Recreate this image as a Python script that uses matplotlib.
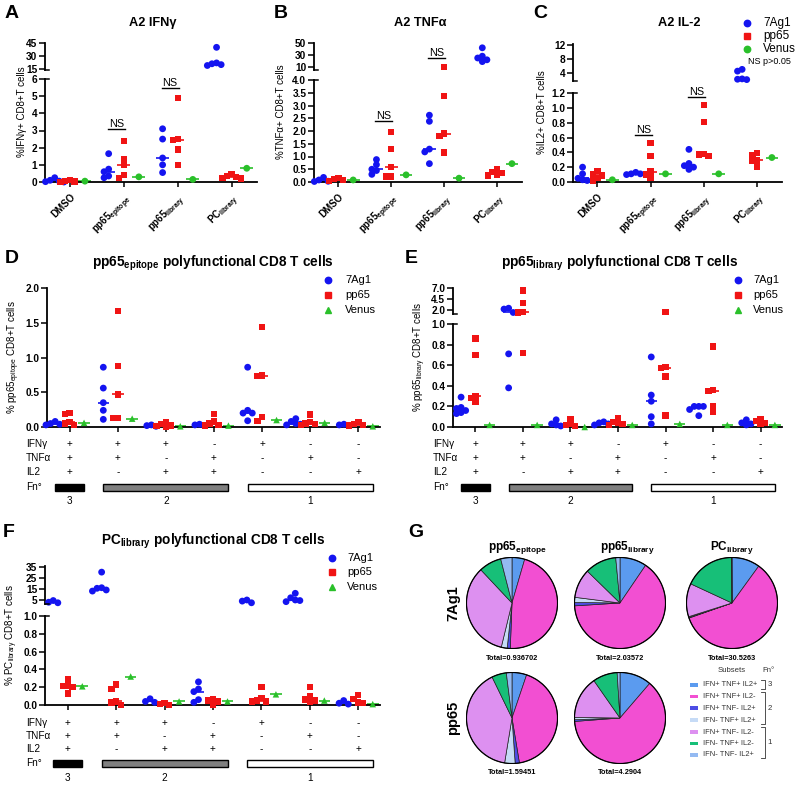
import numpy as np
import matplotlib
matplotlib.use("Agg")
import matplotlib.pyplot as plt
from matplotlib import transforms
from matplotlib.lines import Line2D
from matplotlib.patches import Rectangle

plt.rcParams['font.family'] = ['Liberation Sans', 'DejaVu Sans']
plt.rcParams['mathtext.fontset'] = 'custom'
plt.rcParams['mathtext.rm'] = 'Liberation Sans'
plt.rcParams['mathtext.bf'] = 'Liberation Sans:bold'
plt.rcParams['mathtext.it'] = 'Liberation Sans:italic'

# ---------------- data ----------------
stims = ['DMSO', r'pp65$_{\mathbf{epitope}}$', r'pp65$_{\mathbf{library}}$', r'PC$_{\mathbf{library}}$']

# A  IFNg
ifng_7ag1 = [[0.25, 0.1, 0.05, 0.02, 0.0], [1.65, 0.75, 0.6, 0.35, 0.25], [3.1, 2.5, 1.4, 1.0, 0.55], [40, 22, 21, 20, 19]]
ifng_pp65 = [[0.1, 0.06, 0.03, 0.0], [2.4, 1.35, 1.0, 0.4, 0.25], [4.9, 2.5, 2.45, 1.9, 1.0], [0.45, 0.35, 0.3, 0.25, 0.2]]
ifng_venus = [[0.05], [0.3], [0.15], [0.8]]
# B  TNFa
tnfa_7ag1 = [[0.18, 0.08, 0.03, 0.02], [0.88, 0.68, 0.5, 0.45, 0.3], [2.62, 2.38, 1.29, 1.18, 0.72], [42, 28, 25, 22, 19]]
tnfa_pp65 = [[0.15, 0.12, 0.08, 0.05], [1.97, 1.3, 0.6, 0.22, 0.22], [10, 3.37, 1.9, 1.8, 1.15], [0.52, 0.4, 0.35, 0.28, 0.25]]
tnfa_venus = [[0.08], [0.28], [0.15], [0.72]]
# C  IL-2
il2_7ag1 = [[0.2, 0.11, 0.05, 0.03, 0.02], [0.13, 0.11, 0.11, 0.1], [0.44, 0.25, 0.22, 0.2, 0.17], [5.1, 4.6, 2.4, 2.3, 2.2]]
il2_pp65 = [[0.15, 0.1, 0.09, 0.05, 0.02], [0.53, 0.35, 0.14, 0.1, 0.05], [1.04, 0.81, 0.38, 0.37, 0.35], [0.39, 0.36, 0.3, 0.29, 0.21]]
il2_venus = [[0.03], [0.11], [0.11], [0.33]]

# D-F polyfunctional subsets
ifng_sign = ['+', '+', '+', '-', '+', '-', '-']
tnfa_sign = ['+', '+', '-', '+', '-', '+', '-']
il2_sign = ['+', '-', '+', '+', '-', '-', '+']
fn_groups = ['3', '2', '1']

epi_7ag1 = [[0.08, 0.05, 0.04, 0.03], [0.86, 0.56, 0.35, 0.24, 0.11], [0.03, 0.02, 0.01],
            [0.04, 0.03, 0.02], [0.86, 0.24, 0.2, 0.2, 0.09], [0.12, 0.08, 0.05, 0.04, 0.03], [0.04, 0.03, 0.02]]
epi_pp65 = [[0.2, 0.19, 0.07, 0.05, 0.03], [1.67, 0.88, 0.47, 0.13, 0.13], [0.07, 0.04, 0.02, 0.01, 0.0],
            [0.19, 0.08, 0.05, 0.03, 0.02], [1.44, 0.74, 0.73, 0.14, 0.09], [0.18, 0.07, 0.05, 0.04, 0.03],
            [0.07, 0.04, 0.03, 0.02]]
epi_venus = [[0.06], [0.12], [0.01], [0.02], [0.1], [0.06], [0.01]]

lib_7ag1 = [[0.29, 0.19, 0.18, 0.16, 0.14, 0.13], [2.4, 2.2, 1.4, 0.71, 0.38], [0.07, 0.03, 0.02, 0.01],
            [0.05, 0.04, 0.03, 0.02], [0.68, 0.31, 0.25, 0.1, 0.03], [0.2, 0.2, 0.2, 0.17, 0.11],
            [0.07, 0.04, 0.03, 0.02]]
lib_pp65 = [[0.86, 0.7, 0.3, 0.28, 0.24], [6.5, 3.6, 1.45, 1.4, 0.72], [0.08, 0.03, 0.02, 0.01],
            [0.09, 0.05, 0.04, 0.03, 0.02], [1.5, 0.58, 0.57, 0.49, 0.11], [0.78, 0.36, 0.35, 0.2, 0.15],
            [0.08, 0.06, 0.04, 0.03]]
lib_venus = [[0.02], [0.02], [0.0], [0.02], [0.03], [0.02], [0.02]]

pc_7ag1 = [[4.5, 3.0, 2.5], [30, 16, 15.5, 14, 13], [0.07, 0.04, 0.03], [0.26, 0.18, 0.15, 0.06, 0.03],
           [5.0, 4.0, 2.5], [11, 7, 5, 4.5, 3.5], [0.05, 0.02, 0.01]]
pc_pp65 = [[0.29, 0.22, 0.21, 0.2, 0.13], [0.23, 0.18, 0.04, 0.03, 0.0], [0.02, 0.01, 0.0], [0.07, 0.05, 0.04, 0.0],
           [0.2, 0.08, 0.05, 0.04, 0.04], [0.2, 0.1, 0.06, 0.05, 0.04], [0.11, 0.07, 0.03, 0.02]]
pc_venus = [[0.21], [0.32], [0.04], [0.04], [0.12], [0.05], [0.01]]

# G pies (percent of each subset)
subsets = ['IFN+ TNF+ IL2+', 'IFN+ TNF+ IL2-', 'IFN+ TNF- IL2+', 'IFN- TNF+ IL2+',
           'IFN+ TNF- IL2-', 'IFN- TNF+ IL2-', 'IFN- TNF- IL2+']
subset_colors = ['#5b9bef', '#f24fd2', '#4d4de4', '#c6dbf6', '#dd90f0', '#17bf78', '#94baf2']
pie_7ag1_epi = [4.5, 46.1, 1.1, 2.1, 34.2, 8.0, 4.0]
pie_7ag1_lib = [9.5, 64.5, 1.2, 1.8, 10.3, 11.2, 1.5]
pie_7ag1_pc = [10.0, 59.7, 0.2, 0.3, 11.8, 18.0, 0.1]
pie_pp65_epi = [5.2, 42.2, 1.5, 3.7, 40.2, 5.2, 2.0]
pie_pp65_lib = [11.3, 62.5, 0.6, 0.8, 15.1, 8.7, 1.0]
totals_7ag1 = ['0.936702', '2.03572', '30.5263']
totals_pp65 = ['1.59451', '4.2904']

BLUE, RED, GREEN = '#1414f0', '#f01414', '#2ac02a'
TICK_FS = 7.3
TAB_FS = 7.2

# ---------------- helpers ----------------
W, H = 797, 801
fig = plt.figure(figsize=(W / 100, H / 100), dpi=100)


def fx(p):
    return p / W


def fy(p):
    return 1 - p / H


def add_ax(x0, y0, x1, y1):
    return fig.add_axes([fx(x0), fy(y1), (x1 - x0) / W, (y1 - y0) / H])


def style(ax, ticks, fmt, bottom=True):
    for s in ['top', 'right']:
        ax.spines[s].set_visible(False)
    ax.spines['left'].set_linewidth(1.3)
    ax.set_yticks(ticks)
    ax.set_yticklabels([fmt.format(t) for t in ticks], fontweight='bold')
    ax.tick_params(axis='y', direction='out', length=4, width=1.1, labelsize=TICK_FS, pad=1.5)
    if bottom:
        ax.spines['bottom'].set_linewidth(1.3)
        ax.tick_params(axis='x', direction='out', length=3.5, width=1.1, labelsize=TICK_FS)
    else:
        ax.spines['bottom'].set_visible(False)
        ax.tick_params(axis='x', bottom=False, labelbottom=False)
    ax.patch.set_alpha(0)


def panel(x0, x1, lo_box, lo_lim, lo_ticks, lo_fmt, xlim, hi_box=None, hi_lim=None, hi_ticks=None, hi_fmt=None):
    lo = add_ax(x0, lo_box[0], x1, lo_box[1])
    lo.set_xlim(xlim)
    lo.set_ylim(lo_lim)
    style(lo, lo_ticks, lo_fmt)
    hi = None
    if hi_box is not None:
        hi = add_ax(x0, hi_box[0], x1, hi_box[1])
        hi.set_xlim(xlim)
        hi.set_ylim(hi_lim)
        style(hi, hi_ticks, hi_fmt, bottom=False)
        for yy in (hi_box[1], lo_box[0]):
            fig.add_artist(Line2D([fx(x0), fx(x0 + 4)], [fy(yy), fy(yy)], color='k', lw=1.1))
    return lo, hi


def draw(lo, hi, series, offsets, med_half=0.12):
    split = lo.get_ylim()[1]
    xl = lo.get_xlim()
    px_per_x = lo.bbox.width / (xl[1] - xl[0])

    def pick(v):
        return hi if (hi is not None and v > split) else lo

    def ypx(v):
        return pick(v).transData.transform((0, v))[1]

    for (data, color, marker, size), off in zip(series, offsets):
        for i, vals in enumerate(data):
            xc = i + off
            placed = []
            for v in vals:
                y = ypx(v)
                for k in [0, -1, 1, -2, 2, -3, 3]:
                    x = k * 4.6
                    if all((x - a) ** 2 + (y - b) ** 2 >= 4.6 ** 2 for a, b in placed):
                        break
                placed.append((x, y))
                pick(v).scatter([xc + x / px_per_x], [v], s=size, marker=marker, color=color,
                                edgecolors='none', zorder=3, clip_on=False)
            m = float(np.median(vals))
            pick(m).plot([xc - med_half, xc + med_half], [m, m], color=color, lw=1.2, zorder=2,
                         solid_capstyle='butt', clip_on=False)


def legend(xm, xt, ys, items, size=8):
    for y, (lab, color, marker) in zip(ys, items):
        fig.add_artist(Line2D([fx(xm)], [fy(y)], marker=marker, color=color, markersize=4.6, lw=0))
        fig.text(fx(xt), fy(y), lab, fontsize=size, va='center', ha='left')


def ns(ax, c, y):
    ax.plot([c - 0.3, c + 0.02], [y, y], color='k', lw=1.0, clip_on=False)
    ax.text(c - 0.14, y + 0.0, 'NS', ha='center', va='bottom', fontsize=7.8, clip_on=False)


# ---------------- A-C ----------------
xlim_abc = (-0.46, 3.47)
abc = [
    (45, 257, (79, 182), (0, 6), [0, 1, 2, 3, 4, 5, 6], '{:g}', (43, 70), (13.8, 45), [15, 30, 45], '{:g}',
     [ifng_7ag1, ifng_pp65, ifng_venus], 'A2 IFNγ', '%IFNγ+ CD8+T cells', 'A', [3.1, 5.47], 23),
    (314, 522, (80, 182), (0, 4), [0, 0.5, 1, 1.5, 2, 2.5, 3, 3.5, 4], '{:.1f}', (43, 70), (5, 50), [10, 30, 50], '{:g}',
     [tnfa_7ag1, tnfa_pp65, tnfa_venus], 'A2 TNFα', '%TNFα+ CD8+T cells', 'B', [2.4, 4.85], 33),
    (573, 782, (93, 182), (0, 1.2), [0, 0.2, 0.4, 0.6, 0.8, 1.0, 1.2], '{:.1f}', (44, 81), (1.8, 12.3), [4, 8, 12], '{:g}',
     [il2_7ag1, il2_pp65, il2_venus], 'A2 IL-2', '%IL2+ CD8+T cells', 'C', [0.63, 1.15], 31),
]
for (x0, x1, lob, lol, lot, lof, hib, hil, hit, hif, dat, title, ylab, letter, nsy, ylx) in abc:
    lo, hi = panel(x0, x1, lob, lol, lot, lof, xlim_abc, hib, hil, hit, hif)
    lo.set_xticks(range(4))
    lo.set_xticklabels(stims, rotation=45, ha='right', rotation_mode='anchor', fontweight='bold', fontsize=7)
    draw(lo, hi, [(dat[0], BLUE, 'o', 24), (dat[1], RED, 's', 21), (dat[2], GREEN, 'o', 24)], [-0.28, 0.0, 0.28])
    ns(lo, 1, nsy[0])
    ns(lo, 2, nsy[1])
    fig.text(fx((x0 + x1) / 2 + 2), fy(23), title, ha='center', va='center', fontsize=9.2, fontweight='bold')
    fig.text(fx(x0 - ylx), fy(112), ylab, rotation=90, ha='center', va='center', fontsize=7)
    fig.text(fx(x0 - 40), fy(5), letter, ha='left', va='top', fontsize=14, fontweight='bold')

legend(747, 763, [23, 36, 49], [('7Ag1', BLUE, 'o'), ('pp65', RED, 's'), ('Venus', GREEN, 'o')], size=8.5)
fig.text(fx(748), fy(62), 'NS p>0.05', fontsize=6.5, va='center')

# ---------------- D-F ----------------
xlim_def = (-0.47, 6.45)
tri = [('7Ag1', BLUE, 'o'), ('pp65', RED, 's'), ('Venus', GREEN, '^')]
def_panels = [
    (47, 380, (288, 427), (0, 2), [0, 0.5, 1, 1.5, 2], '{:.1f}', None, None, None, None,
     [epi_7ag1, epi_pp65, epi_venus], r'pp65$_{\mathbf{epitope}}$ polyfunctional CD8 T cells',
     r'% pp65$_{\mathrm{epitope}}$ CD8+T cells', 'D', 213, 263, (328, 345, [280, 295, 310]),
     26, [444, 458, 472, 487, 501], 5, 250),
    (453, 782, (324, 427), (0, 1), [0, 0.2, 0.4, 0.6, 0.8, 1.0], '{:.1f}', (288, 314), (1.05, 7.1), [2, 4.5, 7], '{:.1f}',
     [lib_7ag1, lib_pp65, lib_venus], r'pp65$_{\mathbf{library}}$ polyfunctional CD8 T cells',
     r'% pp65$_{\mathrm{library}}$ CD8+T cells', 'E', 620, 263, (738, 753, [280, 295, 310]),
     433, [444, 458, 472, 487, 501], 405, 250),
    (45, 380, (616, 705), (0, 1), [0, 0.2, 0.4, 0.6, 0.8, 1.0], '{:.1f}', (566, 604), (1.4, 35.5), [5, 15, 25, 35], '{:g}',
     [pc_7ag1, pc_pp65, pc_venus], r'PC$_{\mathbf{library}}$ polyfunctional CD8 T cells',
     r'% PC$_{\mathrm{library}}$ CD8+T cells', 'F', 213, 541, (332, 347, [558, 572, 587]),
     26, [723, 736, 749, 763, 778], 3, 524),
]
for (x0, x1, lob, lol, lot, lof, hib, hil, hit, hif, dat, title, ylab, letter, tx, ty, leg, labx, rows, lx, ly) in def_panels:
    lo, hi = panel(x0, x1, lob, lol, lot, lof, xlim_def, hib, hil, hit, hif)
    lo.set_xticks(range(7))
    lo.set_xticklabels([])
    draw(lo, hi, [(dat[0], BLUE, 'o', 24), (dat[1], RED, 's', 21), (dat[2], GREEN, '^', 22)], [-0.3, 0.0, 0.3], 0.12)
    fig.text(fx(tx), fy(ty), title, ha='center', va='center', fontsize=9.8, fontweight='bold')
    top = hib[0] if hib else lob[0]
    fig.text(fx(x0 - 33), fy((top + lob[1]) / 2), ylab, rotation=90, ha='center', va='center', fontsize=7)
    fig.text(fx(lx), fy(ly), letter, ha='left', va='top', fontsize=14, fontweight='bold')
    legend(leg[0], leg[1], leg[2], tri)
    tr = transforms.blended_transform_factory(lo.transData, fig.transFigure)
    for name, signs, y in zip(['IFNγ', 'TNFα', 'IL2'], [ifng_sign, tnfa_sign, il2_sign], rows[:3]):
        fig.text(fx(labx), fy(y), name, fontsize=TAB_FS, va='center', ha='left')
        for i, sg in enumerate(signs):
            lo.text(i, fy(y), sg, transform=tr, ha='center', va='center', fontsize=TAB_FS, clip_on=False)
    fig.text(fx(labx), fy(rows[3]), 'Fn°', fontsize=TAB_FS, va='center', ha='left')
    for (a, b), fc, lab, c in zip([(-0.3, 0.3), (0.7, 3.3), (3.7, 6.3)], ['black', '#808080', 'white'], fn_groups, [0, 2, 5]):
        lo.add_patch(Rectangle((a, fy(rows[3] + 4)), b - a, 7.5 / H, transform=tr, facecolor=fc,
                               edgecolor='black', lw=1.0, clip_on=False))
        lo.text(c, fy(rows[4]), lab, transform=tr, ha='center', va='center', fontsize=TAB_FS, clip_on=False)

# ---------------- G ----------------
fig.text(fx(408), fy(524), 'G', ha='left', va='top', fontsize=14, fontweight='bold')
for x, t in zip([517, 627, 732], [r'pp65$_{\mathbf{epitope}}$', r'pp65$_{\mathbf{library}}$', r'PC$_{\mathbf{library}}$']):
    fig.text(fx(x), fy(548), t, ha='center', va='center', fontsize=8.5, fontweight='bold')
fig.text(fx(453), fy(603), '7Ag1', rotation=90, ha='center', va='center', fontsize=10.5, fontweight='bold')
fig.text(fx(453), fy(718), 'pp65', rotation=90, ha='center', va='center', fontsize=10.5, fontweight='bold')

R = 46
pies = [(pie_7ag1_epi, 512, 603, totals_7ag1[0]), (pie_7ag1_lib, 620, 603, totals_7ag1[1]),
        (pie_7ag1_pc, 732, 603, totals_7ag1[2]), (pie_pp65_epi, 512, 718, totals_pp65[0]),
        (pie_pp65_lib, 620, 718, totals_pp65[1])]
for vals, cx, cy, tot in pies:
    ax = add_ax(cx - R, cy - R, cx + R, cy + R)
    ax.pie(vals, colors=subset_colors, startangle=90, counterclock=False,
           wedgeprops=dict(edgecolor='#222222', linewidth=0.5))
    ax.add_patch(plt.Circle((0, 0), 1, fill=False, edgecolor='black', lw=0.9))
    ax.set_xlim(-1.01, 1.01)
    ax.set_ylim(-1.01, 1.01)
    ax.set_aspect('equal')
    ax.axis('off')
    fig.text(fx(cx), fy(cy + R + 9), 'Total=' + tot, ha='center', va='center', fontsize=5.3, fontweight='bold')

fig.text(fx(732), fy(671), 'Subsets', ha='center', va='center', fontsize=5.6, color='#333333')
fig.text(fx(768), fy(671), 'Fn°', ha='center', va='center', fontsize=5.6, color='#333333')
leg_y = [685, 696.5, 708, 720, 732, 743.5, 755]
for y, lab, col in zip(leg_y, subsets, subset_colors):
    fig.patches.append(Rectangle((fx(690), fy(y + 1.8)), 8 / W, 3.6 / H, transform=fig.transFigure,
                                 facecolor=col, edgecolor='none'))
    fig.text(fx(703), fy(y), lab, ha='left', va='center', fontsize=5.4, color='#333333')
for (t, b), lab in zip([(680, 689), (692, 724), (727, 758)], fn_groups):
    fig.add_artist(Line2D([fx(761), fx(764.5), fx(764.5), fx(761)], [fy(t), fy(t), fy(b), fy(b)],
                          color='#333333', lw=0.6))
    fig.text(fx(767.5), fy((t + b) / 2), lab, ha='left', va='center', fontsize=5.6, color='#333333')

fig.savefig('out.png', dpi=100)
